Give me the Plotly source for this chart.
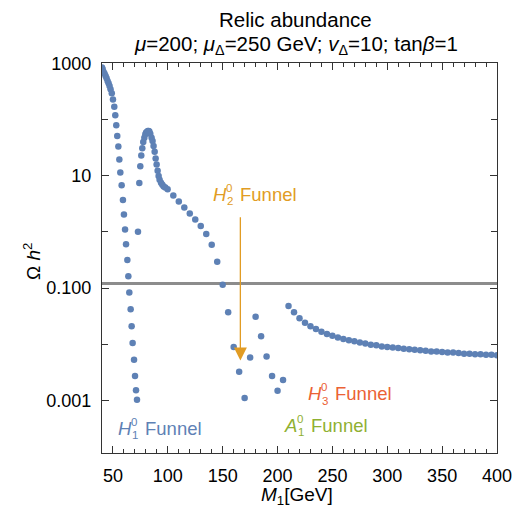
import plotly.graph_objects as go

# ---- data ----
m1_gev = [40.0, 40.6, 41.5, 42.4, 43.3, 44.2, 45.1, 46.0, 46.9, 47.8, 48.9, 50.0, 51.2, 52.1, 53.0,
          53.9, 54.9, 55.8, 56.7, 57.9, 59.1, 60.0, 61.0, 61.9, 63.1, 64.0, 64.9, 66.1, 67.0, 67.9,
          69.2, 70.1, 71.0, 71.9,
          72.8, 74.0, 74.9, 75.8, 76.7, 77.6, 78.6, 79.5, 80.2, 81.0, 81.7, 82.5, 83.2, 84.0, 85.2,
          86.1, 87.0, 88.0, 88.9, 89.8, 90.7, 91.6, 92.5, 93.8, 95.0, 96.2, 97.7, 99.8,
          105, 110, 115, 120, 125, 130, 135, 140, 145, 150, 155, 160, 165, 170, 175, 180, 185,
          190, 195, 200, 205,
          210, 215, 220, 225, 230, 235, 240, 245, 250, 255, 260, 265, 270, 275, 280, 285, 290,
          295, 300, 305, 310, 315, 320, 325, 330, 335, 340, 345, 350, 355, 360, 365, 370, 375,
          380, 385, 390, 395, 400]
log10_omega = [2.93, 2.90, 2.85, 2.82, 2.78, 2.74, 2.69, 2.65, 2.60, 2.54, 2.47, 2.36, 2.23, 2.08, 1.90,
               1.71, 1.52, 1.29, 1.06, 0.83, 0.57, 0.31, 0.045, -0.22, -0.50, -0.79, -1.08, -1.38, -1.68, -1.98,
               -2.28, -2.57, -2.82, -2.99,
               0.005, 0.87, 1.17, 1.36, 1.49, 1.60, 1.68, 1.74, 1.77, 1.78, 1.80, 1.80, 1.79, 1.75, 1.68,
               1.62, 1.53, 1.43, 1.31, 1.20, 1.09, 0.995, 0.93, 0.875, 0.84, 0.81, 0.79, 0.76,
               0.65, 0.54, 0.436, 0.33, 0.223, 0.105, -0.037, -0.23, -0.53, -0.94, -1.43, -2.05, -2.49,
               -2.96, -2.24, -1.51, -1.86, -2.22, -2.57, -2.83, -2.64,
               -1.32, -1.43, -1.54, -1.62, -1.68, -1.73, -1.78, -1.82, -1.85, -1.88, -1.91, -1.93, -1.95,
               -1.97, -1.99, -2.01, -2.02, -2.04, -2.05, -2.06, -2.07, -2.08, -2.09, -2.10, -2.11, -2.12,
               -2.13, -2.13, -2.14, -2.15, -2.15, -2.16, -2.17, -2.17, -2.18, -2.18, -2.19, -2.19, -2.20]
omega_h2 = [10 ** v for v in log10_omega]

planck_omega = 0.12
x_ticks = [50, 100, 150, 200, 250, 300, 350, 400]
y_tickvals = [1000, 10, 0.1, 0.001]
y_ticktext = ["1000", "10", "0.100", "0.001"]
y_minor_tickvals = [100, 1, 0.01]

# funnel labels: (symbol, subscript, superscript, left x [GeV], log10 y, colour)
BLUE = "#5E81B5"
ORANGE = "#E19C24"
GREEN = "#8FB032"
RED = "#EB6235"
funnel_labels = [
    ("H", "2", "0", 140.3, 0.675, ORANGE),
    ("H", "3", "0", 226.9, -2.881, RED),
    ("A", "1", "0", 205.3, -3.444, GREEN),
    ("H", "1", "0", 53.7, -3.503, BLUE),
]
arrow_x = 166.1
arrow_tail_log = 0.29
arrow_tip_log = -2.29

FONT = "Liberation Sans, Arial, sans-serif"

fig = go.Figure()
fig.add_trace(go.Scatter(x=[40, 400], y=[planck_omega, planck_omega], mode="lines",
                         line=dict(color="rgb(140,140,140)", width=3), hoverinfo="skip"))
fig.add_trace(go.Scatter(x=m1_gev, y=omega_h2, mode="markers",
                         marker=dict(color=BLUE, size=6.5, line=dict(width=0))))

ann = []
# titles
ann.append(dict(text="Relic abundance", xref="paper", yref="paper", x=0.491, y=1.112,
                showarrow=False, xanchor="center", yanchor="middle", font=dict(size=20.5)))
ann.append(dict(text="<i>μ</i>=200; <i>μ</i><sub>Δ</sub>=250 GeV; <i>v</i><sub>Δ</sub>=10; tan<i>β</i>=1",
                xref="paper", yref="paper", x=0.491, y=1.046,
                showarrow=False, xanchor="center", yanchor="middle", font=dict(size=20.5)))
# axis titles
ann.append(dict(text="Ω <i>h</i><sup>2</sup>", xref="paper", yref="paper", x=-0.177, y=0.49,
                textangle=-90, showarrow=False, xanchor="center", yanchor="middle", font=dict(size=19)))
ann.append(dict(text="<i>M</i><sub>1</sub>[GeV]", xref="paper", yref="paper", x=0.494, y=-0.11,
                showarrow=False, xanchor="center", yanchor="middle", font=dict(size=19)))

# funnel labels with stacked sub/superscripts
for sym, sub, sup, lx, ly, col in funnel_labels:
    base = dict(x=lx, y=ly, xref="x", yref="y", showarrow=False, xanchor="left", yanchor="middle",
                borderpad=0)
    ann.append(dict(base, text="<i>%s</i>" % sym, font=dict(size=18.5, color=col)))
    ann.append(dict(base, text=sup, xshift=13, yshift=6.5, font=dict(size=11.5, color=col)))
    ann.append(dict(base, text=sub, xshift=13.5, yshift=-7, font=dict(size=11.5, color=col)))
    ann.append(dict(base, text="Funnel", xshift=26.5, font=dict(size=18.5, color=col)))

# arrow
ann.append(dict(text="", x=arrow_x, y=arrow_tip_log, xref="x", yref="y", ax=arrow_x, ay=arrow_tail_log,
                axref="x", ayref="y", showarrow=True, arrowhead=2, arrowsize=2.0, arrowwidth=1.3,
                arrowcolor=ORANGE))

axis_common = dict(showline=True, linecolor="#333333", linewidth=1.2, mirror="allticks",
                   ticks="inside", tickcolor="#333333", showgrid=False, zeroline=False,
                   tickfont=dict(size=18, color="black"), ticklabelstandoff=6)

fig.update_layout(
    width=512, height=505,
    margin=dict(l=94, r=23, t=55, b=60, autoexpand=False),
    paper_bgcolor="white", plot_bgcolor="white",
    font=dict(family=FONT, color="black"),
    showlegend=False,
    annotations=ann,
    xaxis=dict(range=[40, 400], tickvals=x_ticks, ticklen=7, tickwidth=1, automargin=False,
               minor=dict(dtick=10, ticklen=4, ticks="inside", tickcolor="#333333", showgrid=False),
               **axis_common),
    yaxis=dict(type="log", range=[-3.94, 3.01], tickvals=y_tickvals, ticktext=y_ticktext,
               ticklen=7, tickwidth=1, automargin=False,
               minor=dict(tickvals=y_minor_tickvals, ticklen=6, ticks="inside", tickcolor="#333333",
                          showgrid=False),
               **axis_common),
)

fig.write_html("out.html")
